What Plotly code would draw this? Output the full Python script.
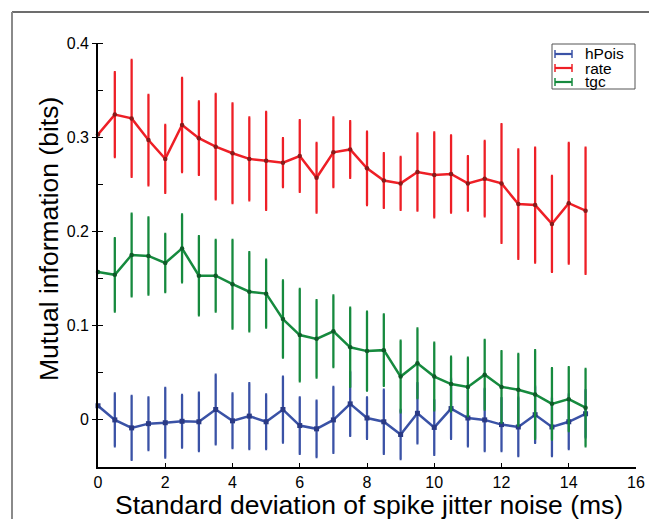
import plotly.graph_objects as go

# ---------------- data ----------------
jitter_sd = [0, 0.5, 1, 1.5, 2, 2.5, 3, 3.5, 4, 4.5, 5, 5.5, 6, 6.5, 7,
             7.5, 8, 8.5, 9, 9.5, 10, 10.5, 11, 11.5, 12, 12.5, 13, 13.5, 14, 14.5]

rate = [0.303, 0.324, 0.320, 0.297, 0.277, 0.313, 0.299, 0.290, 0.283, 0.277,
        0.275, 0.273, 0.280, 0.257, 0.284, 0.287, 0.267, 0.254, 0.251, 0.263,
        0.260, 0.261, 0.251, 0.256, 0.251, 0.229, 0.228, 0.208, 0.230, 0.222]
rate_err = [0, 0.045, 0.062, 0.048, 0.036, 0.050, 0.039, 0.056, 0.053, 0.044,
            0.052, 0.026, 0.038, 0.037, 0.037, 0.030, 0.039, 0.029, 0.028, 0.041,
            0.045, 0.041, 0.029, 0.040, 0.063, 0.058, 0.061, 0.051, 0.064, 0.067]

tgc = [0.157, 0.154, 0.175, 0.174, 0.1665, 0.182, 0.153, 0.153, 0.144, 0.136,
       0.134, 0.107, 0.090, 0.086, 0.094, 0.077, 0.073, 0.074, 0.046, 0.060,
       0.046, 0.038, 0.035, 0.048, 0.035, 0.032, 0.027, 0.017, 0.022, 0.013]
tgc_err = [0, 0.039, 0.044, 0.041, 0.031, 0.036, 0.042, 0.038, 0.047, 0.042,
           0.036, 0.041, 0.049, 0.041, 0.038, 0.042, 0.042, 0.038, 0.038, 0.037,
           0.036, 0.029, 0.031, 0.037, 0.038, 0.038, 0.047, 0.038, 0.034, 0.041]

hpois = [0.015, 0.0, -0.0085, -0.004, -0.003, -0.0015, -0.002, 0.011, -0.001, 0.004,
         -0.002, 0.011, -0.006, -0.0095, 0.0, 0.017, 0.002, -0.002, -0.0155, 0.007,
         -0.008, 0.012, 0.002, 0.0, -0.005, -0.0075, 0.0055, -0.0075, -0.002, 0.0065]
hpois_err = [0, 0.028, 0.034, 0.028, 0.037, 0.028, 0.031, 0.037, 0.029, 0.035,
             0.029, 0.035, 0.030, 0.030, 0.035, 0.034, 0.022, 0.034, 0.026, 0.032,
             0.029, 0.032, 0.030, 0.033, 0.028, 0.031, 0.030, 0.031, 0.029, 0.025]

series_names = ["hPois", "rate", "tgc"]
y_tick_vals = [0, 0.1, 0.2, 0.3, 0.4]
y_tick_text = ["0", "0.1", "0.2", "0.3", "0.4"]
x_tick_vals = [0, 2, 4, 6, 8, 10, 12, 14, 16]
x_title = "Standard deviation of spike jitter noise (ms)"
y_title = "Mutual information (bits)"

# ---------------- styling ----------------
BLUE, BLUE_M = "#3a52a6", "#2a3a85"
RED, RED_M = "#ee1f26", "#8a1a1a"
GREEN, GREEN_M = "#168a3e", "#0e5a28"
FONT = "Liberation Sans, Arial, sans-serif"

OFF = 8  # page body margin offset (page px -> figure px)
W, H = 657, 519
# plot area in page pixels: x 98..636, y 43..467
ML, MT = 98 - OFF, 43 - OFF
MR, MB = W - (636 - OFF), H - (467 - OFF)
PW, PH = W - ML - MR, H - MT - MB


def px(xp):
    """page pixel x -> paper x"""
    return (xp - OFF - ML) / PW


def py(yp):
    """page pixel y -> paper y"""
    return (H - MB - (yp - OFF)) / PH


fig = go.Figure()


def add_series(name, y, err, color, mcolor, symbol, msize):
    fig.add_trace(go.Scatter(
        x=jitter_sd, y=y, name=name, mode="lines+markers",
        line=dict(color=color, width=2.5),
        marker=dict(color=mcolor, size=msize, symbol=symbol, line=dict(width=0)),
        error_y=dict(type="data", array=err, visible=True, color=color,
                     thickness=2.3, width=1),
        showlegend=False, cliponaxis=False,
    ))


add_series("hPois", hpois, hpois_err, BLUE, BLUE_M, "square", 5)
add_series("rate", rate, rate_err, RED, RED_M, "circle", 4.5)
add_series("tgc", tgc, tgc_err, GREEN, GREEN_M, "circle", 4.5)

shapes = []
annotations = []

# figure frame (top and left edges visible)
shapes.append(dict(type="line", xref="paper", yref="paper",
                   x0=px(12), x1=px(670), y0=py(12), y1=py(12),
                   line=dict(color="#3c3c3c", width=1.5)))
shapes.append(dict(type="line", xref="paper", yref="paper",
                   x0=px(12), x1=px(12), y0=py(12), y1=py(535),
                   line=dict(color="#8a8a8a", width=2)))

# manual legend
lx0, lx1, ly0, ly1 = 552, 635, 44, 89
shapes.append(dict(type="rect", xref="paper", yref="paper",
                   x0=px(lx0), x1=px(lx1), y0=py(ly1), y1=py(ly0),
                   line=dict(color="#555555", width=1), fillcolor="white"))
leg_colors = [BLUE, RED, GREEN]
leg_y = [54, 68, 82]
for name, c, yy in zip(series_names, leg_colors, leg_y):
    shapes.append(dict(type="line", xref="paper", yref="paper",
                       x0=px(555), x1=px(572), y0=py(yy), y1=py(yy),
                       line=dict(color=c, width=2.2)))
    for xe in (555, 572):
        shapes.append(dict(type="line", xref="paper", yref="paper",
                           x0=px(xe), x1=px(xe), y0=py(yy - 4), y1=py(yy + 4),
                           line=dict(color=c, width=1.5)))
    annotations.append(dict(text=name, xref="paper", yref="paper",
                            x=px(583), y=py(yy), xanchor="left", yanchor="middle",
                            showarrow=False, font=dict(family=FONT, size=15.5, color="#000")))

# axis titles
annotations.append(dict(text=x_title, xref="paper", yref="paper",
                        x=px(368.5), y=py(505), xanchor="center", yanchor="middle",
                        showarrow=False, font=dict(family=FONT, size=26.5, color="#000")))
annotations.append(dict(text=y_title, xref="paper", yref="paper",
                        x=px(49), y=py(239), xanchor="center", yanchor="middle",
                        textangle=-90, showarrow=False,
                        font=dict(family=FONT, size=26.5, color="#000")))

fig.update_layout(
    width=W, height=H,
    margin=dict(l=ML, r=MR, t=MT, b=MB),
    paper_bgcolor="white", plot_bgcolor="white",
    showlegend=False,
    font=dict(family=FONT, size=16, color="#000"),
    shapes=shapes, annotations=annotations,
    xaxis=dict(range=[0, 16], tickvals=x_tick_vals, ticks="inside", ticklen=4,
               tickwidth=1.2, tickcolor="#000", showline=True, linecolor="#000",
               linewidth=1.6, showgrid=False, zeroline=False,
               tickfont=dict(family=FONT, size=16, color="#000")),
    yaxis=dict(range=[-0.05, 0.4], tickvals=y_tick_vals, ticktext=y_tick_text,
               ticks="outside", ticklen=4, tickwidth=1.2, tickcolor="#000",
               minor=dict(dtick=0.05, tick0=0, ticks="inside", ticklen=5,
                          tickwidth=1.2, tickcolor="#000"),
               showline=True, linecolor="#000", linewidth=1.6,
               showgrid=False, zeroline=False,
               tickfont=dict(family=FONT, size=16, color="#000")),
)

fig.write_html("out.html")
